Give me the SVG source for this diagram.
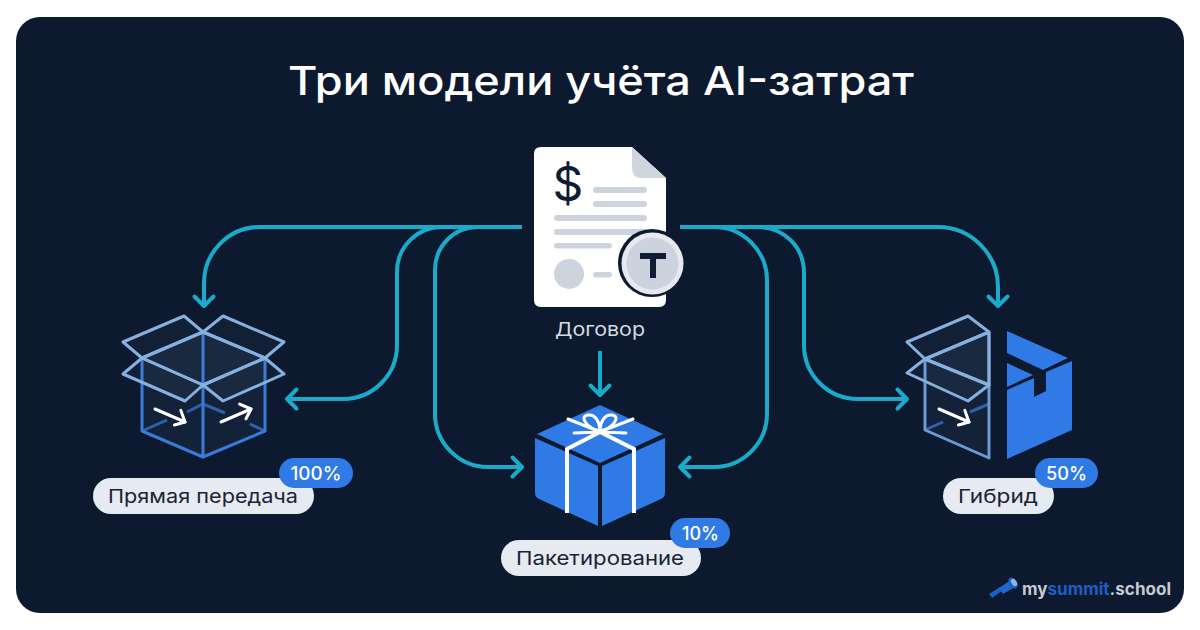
<svg xmlns="http://www.w3.org/2000/svg" width="1200" height="630" viewBox="0 0 1200 630">
<defs>
<marker id="ah" markerUnits="userSpaceOnUse" markerWidth="24" markerHeight="24" refX="12" refY="12" orient="auto" overflow="visible"><path d="M2.500 2.500L12 12L2.500 21.500" fill="none" stroke="#19abc9" stroke-width="4" stroke-linecap="round" stroke-linejoin="round"/></marker>
<marker id="wh" markerUnits="userSpaceOnUse" markerWidth="24" markerHeight="24" refX="12" refY="12" orient="auto" overflow="visible"><path d="M3.500 3L12 12L3.500 19" fill="none" stroke="#fff" stroke-width="3" stroke-linecap="round" stroke-linejoin="round"/></marker>
</defs>
<style>
text{font-family:"Inter","Noto Sans","Liberation Sans",sans-serif}
.c{fill:none;stroke:#19abc9;stroke-width:4;marker-end:url(#ah)}
.pl{fill:#e6ebf2}.pt{fill:#1a2233;font-size:19px;text-anchor:middle}
.bd{fill:#2f7ae5}.bt{fill:#fff;font-size:19px;text-anchor:middle;font-weight:500}
.lb{fill:#8fb4df;fill-opacity:.05;stroke:#86b0de;stroke-width:3;stroke-linejoin:round}
.db{fill:none;stroke:#3a7ad8;stroke-width:3;stroke-linejoin:round}
.bk{fill:none;stroke:#2f62ad;stroke-width:3;stroke-linecap:butt}
.fl{fill:#8fb4df;fill-opacity:.06}
.wa{fill:none;stroke:#fff;stroke-width:3;stroke-linecap:round;marker-end:url(#wh)}
.gr{fill:#cdd4de}
.bl{fill:#2f7ae5}
</style>
<rect width="1200" height="630" fill="#fff"/>
<rect x="16" y="17" width="1168" height="596" rx="24" fill="#0c192e"/>
<text x="601" y="95" font-size="40" font-weight="500" fill="#fff" text-anchor="middle" textLength="626" lengthAdjust="spacingAndGlyphs">Три модели учёта AI-затрат</text>
<g id="connectors">
<path class="c" d="M522 227H260C229 227 204 252 204 283V306"/>
<path class="c" d="M522 227H442C417 227 397 247 397 272V345C397 375 373 399 343 399H287"/>
<path class="c" d="M522 227H478C454 227 435 246 435 270V414C435 443 459 467 488 467H522"/>
<path class="c" d="M680 227H714C743 227 767 251 767 280V414C767 443 743 467 714 467H680"/>
<path class="c" d="M680 227H758C784 227 804 247 804 273V345C804 375 828 399 858 399H907"/>
<path class="c" d="M680 227H938C971 227 998 254 998 287V306"/>
<path class="c" d="M600 351V395"/>
</g>
<g id="contract">
<path d="M541 147H632L666 178V300Q666 307 659 307H541Q534 307 534 300V154Q534 147 541 147Z" fill="#fff"/>
<path d="M632 147L666 178H642Q632 178 632 168Z" fill="#cfd5de"/>
<text x="568" y="201" font-size="48" fill="#0f1c33" text-anchor="middle">$</text>
<g class="gr">
<rect x="593" y="187" width="54" height="6" rx="3"/><rect x="593" y="201" width="54" height="6" rx="3"/>
<rect x="554" y="215" width="93" height="6" rx="3"/><rect x="554" y="229" width="93" height="6" rx="3"/><rect x="554" y="243" width="58" height="5.500" rx="2.700"/>
<circle cx="569" cy="274" r="15"/><rect x="593" y="272" width="19" height="5.500" rx="2.700"/>
</g>
<circle cx="652" cy="263" r="34" fill="#0c192e"/><circle cx="652.500" cy="263.500" r="31" fill="#e6e9ef"/><circle cx="652.500" cy="263.500" r="26" fill="#ccd3de"/>
<path d="M640 256H666M653 256V278" fill="none" stroke="#0f1c33" stroke-width="6"/>
<text x="600" y="336" font-size="19" fill="#d5dae3" text-anchor="middle" textLength="90" lengthAdjust="spacingAndGlyphs">Договор</text>
</g>
<g id="direct">
<path class="fl" d="M203 332L142 358V431L203 457L265 431V358Z"/>
<path class="bk" d="M142 431L167 420M187 412L203 404L225 413M250 424L265 431"/>
<path class="db" d="M203 332V457M142 358V431L203 457L265 431V358"/>
<path class="lb" d="M203 332L142 358L203 385L265 358Z"/>
<path class="lb" d="M203 332L184 316L123 342L142 358Z"/>
<path class="lb" d="M203 332L223 316L284 342L265 358Z"/>
<path class="lb" d="M142 358L123 374L185 401L203 385Z"/>
<path class="lb" d="M265 358L284 374L223 401L203 385Z"/>
<path class="wa" d="M155 409L185 422"/>
<path class="wa" d="M221 422L251 409"/>
<rect class="pl" x="93" y="478" width="221" height="36" rx="18"/>
<text class="pt" x="203" y="503" textLength="190" lengthAdjust="spacingAndGlyphs">Прямая передача</text>
<rect class="bd" x="279" y="458" width="74" height="30" rx="15"/>
<text class="bt" x="316" y="480" textLength="51" lengthAdjust="spacingAndGlyphs">100%</text>
</g>
<g id="bundle">
<path class="bl" d="M600 405L663 434L600 463L537 434Z"/>
<path class="bl" d="M535 438L598 466V526L539 499Q535 497 535 493Z"/>
<path class="bl" d="M602 466L665 438V493Q665 497 661 499L602 526Z"/>
<path d="M567 513V449L600 432L634 449V513" fill="none" stroke="#fff" stroke-width="4"/>
<path d="M568 419L600 432L633 419M574 433L600 432L626 433" fill="none" stroke="#fff" stroke-width="3" stroke-linecap="round"/>
<path d="M600 431C586 428 579 416 588 415C596 414 600 423 600 431C600 423 604 414 612 415C621 416 614 428 600 431Z" fill="none" stroke="#fff" stroke-width="3"/>
<rect class="pl" x="501" y="540" width="200" height="36" rx="18"/>
<text class="pt" x="600" y="565" textLength="168" lengthAdjust="spacingAndGlyphs">Пакетирование</text>
<rect class="bd" x="670" y="518" width="60" height="30" rx="15"/>
<text class="bt" x="700.500" y="540" textLength="37" lengthAdjust="spacingAndGlyphs">10%</text>
</g>
<g id="hybrid">
<path class="fl" d="M925 359L989 332V458L925 430Z"/>
<path class="bk" d="M925 430L943 422M970 412L989 404"/>
<path d="M925 359V430L989 458V332" fill="none" stroke="#6b9ad4" stroke-width="3" stroke-linejoin="round"/>
<path class="lb" d="M907 342L968 316L989 332L925 359Z"/>
<path class="lb" d="M989 332V385L925 359Z" fill-opacity="0"/>
<path class="lb" d="M925 359L907 373L968 401L989 385Z"/>
<path class="wa" d="M939 409L969 422"/>
<path class="bl" d="M1007 331L1068 358L1043 370L1007 353Z"/>
<path class="bl" d="M1007 363L1033 375L1007 387Z"/>
<path class="bl" d="M1072 361V430L1007 459V390L1034 378V397L1046 391V372Z"/>
<rect class="pl" x="943" y="478" width="111" height="36" rx="18"/>
<text class="pt" x="998" y="503" textLength="80" lengthAdjust="spacingAndGlyphs">Гибрид</text>
<rect class="bd" x="1035" y="458" width="63" height="30" rx="15"/>
<text class="bt" x="1066.500" y="480" textLength="41" lengthAdjust="spacingAndGlyphs">50%</text>
</g>
<g id="logo">
<path d="M989 594L1000 587L1002 591L992 598Z" fill="#1d5fc4"/>
<path d="M999 588L1011 580L1015 587L1003 594Z" fill="#2266cc"/>
<ellipse cx="1013" cy="583" rx="4" ry="6" fill="#1d5fc4" transform="rotate(-35 1013 583)"/>
<ellipse cx="1014" cy="582.500" rx="2.500" ry="4" fill="#8db4e8" transform="rotate(-35 1014 582.500)"/>
<text x="1022" y="595" font-size="17" font-weight="700" fill="#c5cad3" font-family="Liberation Sans" textLength="149">my<tspan fill="#1d5fc4">summit</tspan>.school</text>
</g>
</svg>
